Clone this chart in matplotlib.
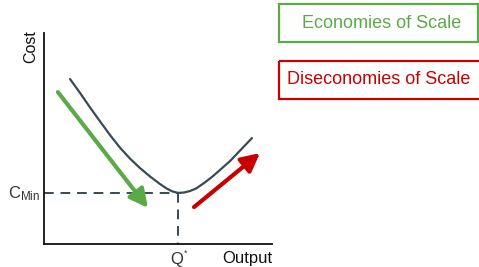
#!/usr/bin/env python
"""Economies / diseconomies of scale: long-run average cost curve sketch."""
import matplotlib
matplotlib.use("Agg")
import matplotlib.pyplot as plt
from matplotlib.patches import Rectangle

# ---- data (output and cost on a 0-100 scale) ------------------------------
curve_output = [11.4, 15.8, 20.2, 24.6, 28.9, 33.3, 37.7, 42.1, 46.5, 50.9, 53.5,
                56.1, 58.8, 61.4, 64.0, 66.7, 70.2, 73.7, 77.2, 81.6, 86.0, 91.2]
curve_cost = [78.2, 71.6, 64.7, 58.1, 51.7, 45.7, 40.5, 36.0, 32.0, 28.4, 26.5,
              25.0, 24.2, 24.4, 25.1, 26.3, 28.9, 31.8, 35.1, 39.3, 44.3, 50.2]
q_star = 58.8
c_min = 24.2
econ_arrow = [(6.1, 72.0), (45.6, 17.1)]     # tail, head
disecon_arrow = [(65.8, 17.5), (94.7, 43.1)]
box_labels = ["Economies of Scale", "Diseconomies of Scale"]

INK, CURVE = "#111111", "#3a4a52"
GREEN, RED = "#5aab48", "#c80000"

plt.rcParams.update({
    "font.family": ["Liberation Sans", "DejaVu Sans"],
    "mathtext.fontset": "custom",
    "mathtext.rm": "Liberation Sans",
    "mathtext.it": "Liberation Sans:italic",
})

W, H = 479, 267
fig = plt.figure(figsize=(W / 100, H / 100), dpi=100)

# main cost/output axes
ax = fig.add_axes([44 / W, (H - 244) / H, (272 - 44) / W, (244 - 33) / H])
ax.set_xlim(0, 100)
ax.set_ylim(0, 100)
for s in ("top", "right"):
    ax.spines[s].set_visible(False)
for s in ("left", "bottom"):
    ax.spines[s].set_color(INK)
    ax.spines[s].set_linewidth(1.3)
ax.set_xticks([])
ax.set_yticks([])

ax.plot(curve_output, curve_cost, color=CURVE, lw=1.6,
        solid_capstyle="round", solid_joinstyle="round")
ax.plot([0, q_star], [c_min, c_min], color=CURVE, lw=1.4, dashes=(5, 3.5))
ax.plot([q_star, q_star], [c_min, 0], color=CURVE, lw=1.4, dashes=(5, 3.5))

for (tail, head), col in ((econ_arrow, GREEN), (disecon_arrow, RED)):
    ax.annotate("", xy=head, xytext=tail,
                arrowprops=dict(arrowstyle="-|>,head_length=0.55,head_width=0.28",
                                mutation_scale=20, color=col, lw=3,
                                shrinkA=0, shrinkB=0))

ax.text(-1.5, c_min - 0.5, r"C$_{\mathrm{Min}}$", ha="right", va="center",
        fontsize=12, color="#333333")
ax.text(q_star - 0.6, -7.2, "Q", ha="center", va="center", fontsize=12, color="#333333")
ax.text(q_star + 3.3, -4.4, "*", ha="center", va="center", fontsize=6.5, color="#333333")
ax.text(100, -6.8, "Output", ha="right", va="center", fontsize=12, color=INK)
ax.text(-5.7, 93.4, "Cost", ha="center", va="center", rotation=90, fontsize=11.5, color=INK)

# label boxes on the right
ov = fig.add_axes([0, 0, 1, 1], zorder=-1)
ov.set_xlim(0, W)
ov.set_ylim(H, 0)
ov.axis("off")
ov.add_patch(Rectangle((279, 4), 199, 38, fill=False, edgecolor=GREEN, lw=1.6))
ov.add_patch(Rectangle((279, 61), 205, 38, fill=False, edgecolor=RED, lw=1.6))
ov.text(382, 23, box_labels[0], ha="center", va="center", fontsize=13, color=GREEN)
ov.text(287, 80, box_labels[1], ha="left", va="center", fontsize=13, color=RED)

fig.savefig("out.png", dpi=100)
